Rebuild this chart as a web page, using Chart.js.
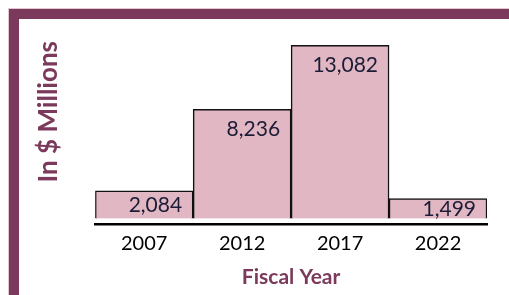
<!DOCTYPE html>
<html>
<head>
<meta charset="utf-8">
<script src="https://cdn.jsdelivr.net/npm/chart.js@4.4.1/dist/chart.umd.min.js"></script>
<style>
  html, body { margin: 0; padding: 0; background: #fff; }
  #wrap { position: relative; width: 509px; height: 295px; overflow: hidden; }
  #chart { position: absolute; left: 0; top: 0; }
  #frame {
    position: absolute; left: 9px; top: 9px; width: 520px; height: 280px;
    border: 10px solid #7b3a5b; box-shadow: 0 0 0 1px #e3c6d1;
    pointer-events: none;
  }
</style>
</head>
<body>
<div id="wrap">
  <canvas id="chart" width="509" height="295"></canvas>
  <div id="frame"></div>
</div>
<script>
const years = ['2007', '2012', '2017', '2022'];
const amounts = [2084, 8236, 13082, 1499];

const maroon = '#7b3a5b';

// value labels inside the top of each bar, right aligned
const barLabels = {
  id: 'barLabels',
  afterDatasetsDraw(chart) {
    const ctx = chart.ctx;
    const meta = chart.getDatasetMeta(0);
    ctx.save();
    ctx.font = '21px Lato';
    ctx.fillStyle = '#1c1c36';
    ctx.textAlign = 'right';
    ctx.textBaseline = 'middle';
    meta.data.forEach((bar, i) => {
      const right = bar.x + bar.width / 2 - 11;
      const y = Math.min(bar.y + 20, (bar.y + bar.base) / 2 + 1);
      ctx.fillText(amounts[i].toLocaleString('en-US'), right, y);
    });
    ctx.restore();
  }
};

new Chart(document.getElementById('chart'), {
  type: 'bar',
  data: {
    labels: years,
    datasets: [{
      data: amounts,
      backgroundColor: '#e0b7c3',
      borderColor: '#111',
      borderWidth: 1.5,
      barPercentage: 1,
      categoryPercentage: 1
    }]
  },
  options: {
    responsive: false,
    animation: false,
    layout: { padding: { left: 33, right: 22, top: 41, bottom: 5 } },
    plugins: { legend: { display: false }, tooltip: { enabled: false } },
    scales: {
      x: {
        grid: { display: false },
        border: { display: true, color: '#000', width: 2.5 },
        ticks: { color: '#000', font: { family: 'Lato', size: 20 }, padding: 0 },
        title: {
          display: true, text: 'Fiscal Year', color: maroon,
          font: { family: 'Lato', size: 21, weight: 'bold' },
          padding: { top: 9, bottom: 0 }
        }
      },
      y: {
        min: -400, max: 13400,
        grid: { display: false },
        border: { display: false },
        ticks: { display: false },
        title: {
          display: true, text: 'In $ Millions', color: maroon, align: 'end',
          font: { family: 'Lato', size: 26, weight: 'bold' },
          padding: { top: 0, bottom: 23 }
        }
      }
    }
  },
  plugins: [barLabels]
});
</script>
</body>
</html>
